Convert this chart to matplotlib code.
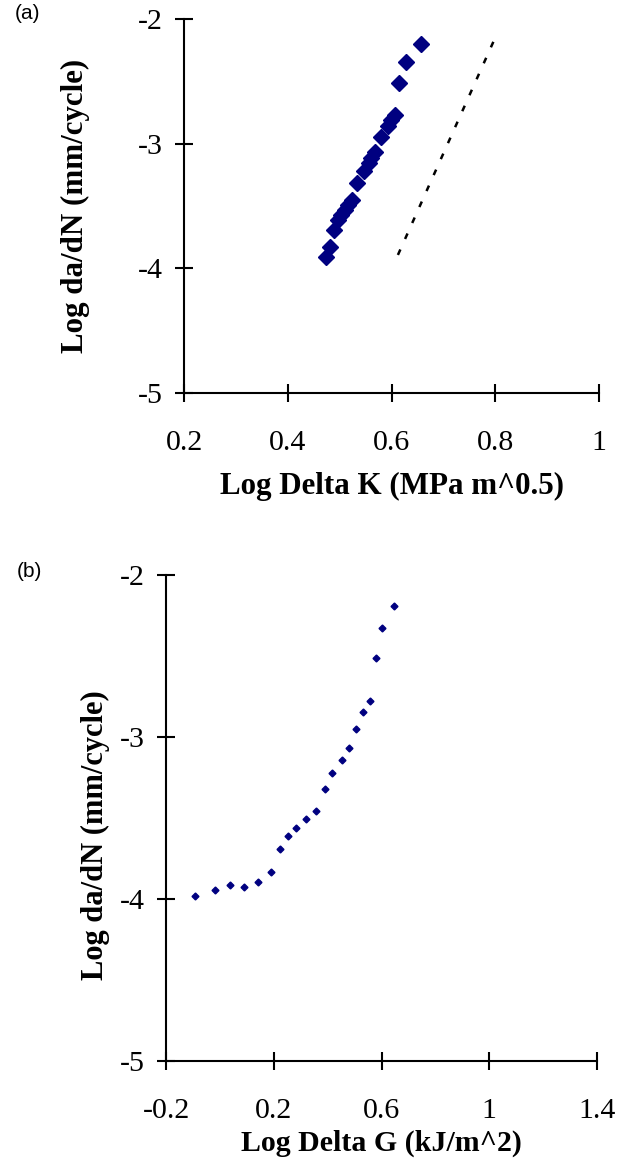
import numpy as np
import matplotlib
matplotlib.use('Agg')
import matplotlib.pyplot as plt

# crack growth data, panel (a): log dK vs log da/dN
log_dk = [0.473, 0.481, 0.489, 0.497, 0.502, 0.510, 0.516, 0.524, 0.534, 0.547,
          0.556, 0.560, 0.568, 0.579, 0.592, 0.599, 0.606, 0.615, 0.627, 0.656]
log_dadn_a = [-3.907, -3.827, -3.692, -3.612, -3.572, -3.532, -3.492, -3.451, -3.317, -3.218,
              -3.152, -3.116, -3.063, -2.948, -2.857, -2.809, -2.769, -2.514, -2.341, -2.198]

# reference line in panel (a)
ref_x = [0.612, 0.796]
ref_y = [-3.893, -2.180]

# panel (b): log dG vs log da/dN
log_dg = [-0.092, -0.019, 0.039, 0.088, 0.140, 0.189, 0.223, 0.253, 0.284, 0.321, 0.355,
          0.389, 0.416, 0.453, 0.478, 0.505, 0.533, 0.558, 0.579, 0.601, 0.646]
log_dadn_b = [-3.982, -3.946, -3.918, -3.927, -3.896, -3.832, -3.695, -3.614, -3.564, -3.505, -3.460,
              -3.322, -3.222, -3.144, -3.073, -2.954, -2.850, -2.779, -2.515, -2.332, -2.195]

xticks_a = [0.2, 0.4, 0.6, 0.8, 1.0]
xtick_labels_a = ['0.2', '0.4', '0.6', '0.8', '1']
xticks_b = [-0.2, 0.2, 0.6, 1.0, 1.4]
xtick_labels_b = ['-0.2', '0.2', '0.6', '1', '1.4']
yticks = [-5, -4, -3, -2]

serif = 'Liberation Serif'
navy = '#000080'

fig = plt.figure(figsize=(6.27, 11.62), dpi=100)
ax1 = fig.add_axes([0.2936, 0.6620, 0.6622, 0.3214])
ax2 = fig.add_axes([0.2648, 0.0871, 0.6874, 0.4184])

def style_axes(ax, xticks, xlabels):
    for s in ['top', 'right']:
        ax.spines[s].set_visible(False)
    for s in ['left', 'bottom']:
        ax.spines[s].set_linewidth(1.5)
    ax.set_xticks(xticks)
    ax.set_xticklabels(xlabels)
    ax.set_yticks(yticks)
    ax.set_yticklabels([str(t) for t in yticks])
    ax.set_ylim(-5, -2)
    ax.set_xlim(xticks[0], xticks[-1])
    ax.tick_params(axis='both', direction='inout', length=13, width=1.5)
    ax.tick_params(axis='x', pad=20)
    ax.tick_params(axis='y', pad=9)
    for lab in ax.get_xticklabels() + ax.get_yticklabels():
        lab.set_fontfamily(serif)
        lab.set_fontsize(21.5)
    ax.set_facecolor('none')

style_axes(ax1, xticks_a, xtick_labels_a)
ax1.plot(log_dk, log_dadn_a, linestyle='none', marker='D', markersize=8.5,
         color=navy, clip_on=False)
ax1.plot(ref_x, ref_y, color='black', linewidth=1.8, linestyle=(0, (2.4, 4.6)))
ax1.set_xlabel('Log Delta K (MPa m^0.5)', fontfamily=serif, fontweight='bold', fontsize=22.3)
ax1.set_ylabel('Log da/dN (mm/cycle)', fontfamily=serif, fontweight='bold', fontsize=22.3)
ax1.xaxis.set_label_coords(0.5, -0.212)
ax1.yaxis.set_label_coords(-0.227, 0.5)

style_axes(ax2, xticks_b, xtick_labels_b)
ax2.plot(log_dg, log_dadn_b, linestyle='none', marker='D', markersize=3.5,
         color=navy, clip_on=False)
ax2.set_xlabel('Log Delta G (kJ/m^2)', fontfamily=serif, fontweight='bold', fontsize=21.5)
ax2.set_ylabel('Log da/dN (mm/cycle)', fontfamily=serif, fontweight='bold', fontsize=22)
ax2.xaxis.set_label_coords(0.5, -0.142)
ax2.yaxis.set_label_coords(-0.130, 0.464)

fig.text(0.024, 1 - 4 / 1162, '(a)', fontfamily='Liberation Sans', fontsize=15, va='top')
fig.text(0.026, 1 - 562 / 1162, '(b)', fontfamily='Liberation Sans', fontsize=15, va='top')

fig.savefig('out.png', dpi=100)
